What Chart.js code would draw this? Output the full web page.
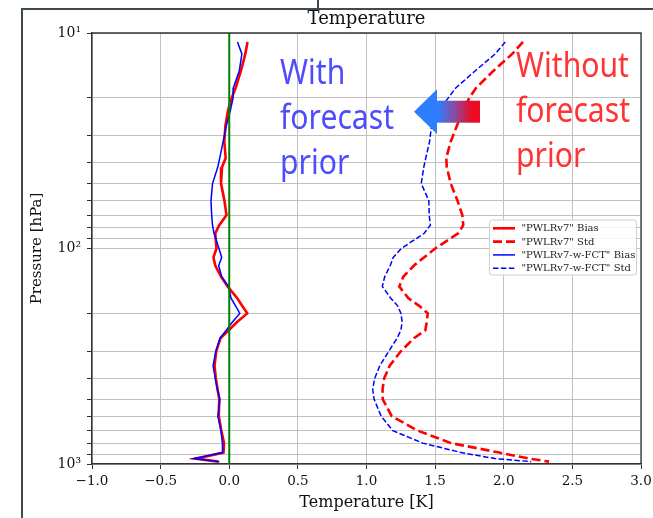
<!DOCTYPE html>
<html><head><meta charset="utf-8">
<script src="https://cdn.jsdelivr.net/npm/chart.js@4/dist/chart.umd.min.js"></script>
<style>html,body{margin:0;padding:0;background:#fff}</style>
</head><body>
<canvas id="c" width="653" height="518"></canvas>
<script>
// ---- data ----
const pressureLevels = [11, 12.5, 15, 18, 20, 23, 27, 32, 38, 42, 50, 60, 70, 78, 85, 100, 110, 120, 135, 150, 170, 185, 200, 220, 240, 260, 300, 350, 400, 450, 500, 600, 700, 800, 885, 944, 975];
const biasPWLRv7 = [0.133, 0.117, 0.085, 0.046, 0.018, -0.010, -0.028, -0.036, -0.026, -0.053, -0.060, -0.035, -0.020, -0.073, -0.102, -0.093, -0.115, -0.102, -0.060, -0.012, 0.058, 0.095, 0.131, 0.055, -0.004, -0.063, -0.095, -0.107, -0.098, -0.085, -0.073, -0.076, -0.058, -0.038, -0.042, -0.245, -0.078];
const stdPWLRv7 = [2.14, 2.062, 1.924, 1.798, 1.749, 1.702, 1.658, 1.613, 1.581, 1.585, 1.614, 1.663, 1.698, 1.705, 1.668, 1.501, 1.419, 1.346, 1.269, 1.239, 1.304, 1.386, 1.446, 1.439, 1.428, 1.348, 1.250, 1.169, 1.129, 1.117, 1.118, 1.184, 1.372, 1.617, 1.967, 2.186, 2.33];
const biasPWLRv7wFCT = [0.060, 0.092, 0.073, 0.029, 0.028, 0.007, -0.022, -0.045, -0.069, -0.084, -0.122, -0.133, -0.128, -0.122, -0.111, -0.075, -0.055, -0.077, -0.055, -0.005, 0.013, 0.047, 0.077, 0.022, -0.023, -0.066, -0.098, -0.118, -0.102, -0.087, -0.068, -0.083, -0.060, -0.050, -0.049, -0.255, -0.073];
const stdPWLRv7wFCT = [2.011, 1.938, 1.791, 1.650, 1.596, 1.527, 1.474, 1.459, 1.432, 1.417, 1.399, 1.454, 1.457, 1.465, 1.421, 1.253, 1.195, 1.173, 1.133, 1.115, 1.177, 1.228, 1.251, 1.260, 1.250, 1.224, 1.162, 1.097, 1.060, 1.045, 1.055, 1.107, 1.191, 1.41, 1.69, 1.938, 2.2];
const seriesLabels = ['"PWLRv7" Bias', '"PWLRv7" Std', '"PWLRv7-w-FCT" Bias', '"PWLRv7-w-FCT" Std'];
const zeroLineX = [0, 0];
const zeroLineP = [10, 1000];
const xTickValues = [-1, -0.5, 0, 0.5, 1, 1.5, 2, 2.5, 3];
const yTickValues = [10, 20, 30, 40, 50, 60, 70, 80, 90, 100, 200, 300, 400, 500, 600, 700, 800, 900, 1000];
const chartTitle = 'Temperature';
const xTitle = 'Temperature [K]';
const yTitle = 'Pressure [hPa]';
const noteWith = ['With', 'forecast', 'prior'];
const noteWithout = ['Without', 'forecast', 'prior'];

const toPts = (vals, ps) => vals.map((v, i) => ({x: v, y: ps[i]}));
const SERIF = '"DejaVu Serif", serif';
const sup = {1: '\u00b9', 2: '\u00b2', 3: '\u00b3'};

const overlay = {
  id: 'overlay',
  beforeDraw(chart) {
    const ctx = chart.ctx;
    ctx.save();
    ctx.fillStyle = '#fff';
    ctx.fillRect(0, 0, chart.width, chart.height);
    ctx.strokeStyle = '#3d4a50';
    ctx.lineWidth = 2;
    ctx.beginPath();
    ctx.moveTo(22, 518); ctx.lineTo(22, 9); ctx.lineTo(653, 9);
    ctx.moveTo(318, 0); ctx.lineTo(318, 9);
    ctx.stroke();
    ctx.restore();
  },
  afterDraw(chart) {
    const ctx = chart.ctx, a = chart.chartArea;
    ctx.save();
    // spines top/right
    ctx.strokeStyle = '#333';
    ctx.lineWidth = 1.3;
    ctx.beginPath();
    ctx.moveTo(a.left, a.top); ctx.lineTo(a.right, a.top); ctx.lineTo(a.right, a.bottom);
    ctx.stroke();
    // title
    ctx.fillStyle = '#111';
    ctx.font = '18px ' + SERIF;
    ctx.textAlign = 'center';
    ctx.textBaseline = 'alphabetic';
    ctx.fillText(chartTitle, (a.left + a.right) / 2, 24);

    // annotations
    ctx.textAlign = 'left';
    ctx.font = '34px "Noto Sans", sans-serif';
    const sx = 114 / ctx.measureText('forecast').width;
    const drawNote = (lines, x, baselines, color) => {
      ctx.fillStyle = color;
      lines.forEach((t, i) => {
        ctx.save();
        ctx.translate(x, baselines[i]);
        ctx.scale(sx, 1);
        ctx.fillText(t, 0, 0);
        ctx.restore();
      });
    };
    drawNote(noteWith, 280, [84, 129, 174], '#4d4dff');
    drawNote(noteWithout, 516, [77, 122, 167], '#ff3333');

    // arrow
    const g = ctx.createLinearGradient(438, 0, 472, 0);
    g.addColorStop(0, '#2e7dff');
    g.addColorStop(0.5, '#8a4a9e');
    g.addColorStop(1, '#ee0a24');
    ctx.fillStyle = g;
    ctx.fillRect(436, 100.7, 44, 22);
    ctx.fillStyle = '#2e7dff';
    ctx.beginPath();
    ctx.moveTo(414, 111.7); ctx.lineTo(437, 89.3); ctx.lineTo(437, 134); ctx.closePath();
    ctx.fill();

    // legend
    const lx = 489.5, ly = 220, lw = 147, lh = 55;
    ctx.fillStyle = 'rgba(255,255,255,0.85)';
    ctx.strokeStyle = '#d0d0d0';
    ctx.lineWidth = 1;
    ctx.beginPath();
    if (ctx.roundRect) ctx.roundRect(lx, ly, lw, lh, 3); else ctx.rect(lx, ly, lw, lh);
    ctx.fill(); ctx.stroke();
    const items = chart.data.datasets.filter(d => d.label).sort((p, q) => p.legendIndex - q.legendIndex);
    ctx.font = '10px ' + SERIF;
    ctx.textBaseline = 'middle';
    items.forEach((d, i) => {
      const y = 228.3 + i * 13.3;
      ctx.strokeStyle = d.borderColor;
      ctx.lineWidth = d.borderWidth;
      ctx.setLineDash(d.borderDash || []);
      ctx.beginPath(); ctx.moveTo(493, y); ctx.lineTo(515, y); ctx.stroke();
      ctx.setLineDash([]);
      ctx.fillStyle = '#222';
      ctx.fillText(d.label, 521.5, y + 0.5);
    });
    ctx.restore();
  }
};

const common = {showLine: true, pointRadius: 0, pointHoverRadius: 0, tension: 0, fill: false};

new Chart(document.getElementById('c'), {
  type: 'scatter',
  data: {
    datasets: [
      {...common, label: '', data: toPts(zeroLineX, zeroLineP), borderColor: '#008000', borderWidth: 2, order: 0},
      {...common, label: seriesLabels[3], legendIndex: 3, data: toPts(stdPWLRv7wFCT, pressureLevels), borderColor: '#0000ff', borderWidth: 1.5, borderDash: [5.5, 2.4], order: 1},
      {...common, label: seriesLabels[2], legendIndex: 2, data: toPts(biasPWLRv7wFCT, pressureLevels), borderColor: '#0000ff', borderWidth: 1.5, order: 2},
      {...common, label: seriesLabels[1], legendIndex: 1, data: toPts(stdPWLRv7, pressureLevels), borderColor: '#ff0000', borderWidth: 2.6, borderDash: [9, 4], order: 3},
      {...common, label: seriesLabels[0], legendIndex: 0, data: toPts(biasPWLRv7, pressureLevels), borderColor: '#ff0000', borderWidth: 2.6, order: 4}
    ]
  },
  options: {
    responsive: false,
    animation: false,
    devicePixelRatio: 1,
    layout: {padding: {left: 0, right: 12, top: 33, bottom: 0}},
    plugins: {legend: {display: false}, title: {display: false}, tooltip: {enabled: false}},
    scales: {
      x: {
        type: 'linear', min: -1, max: 3,
        afterBuildTicks: s => { s.ticks = xTickValues.map(v => ({value: v})); },
        afterFit: s => { s.height = 54; s.paddingLeft = 0; s.paddingRight = 0; },
        ticks: {
          autoSkip: false, maxRotation: 0, padding: 4, color: '#111',
          font: {family: SERIF, size: 13.5},
          callback: v => (v < 0 ? '\u2212' : '') + Math.abs(v).toFixed(1)
        },
        grid: {color: '#c2c2c2', lineWidth: 1, tickLength: 5, tickColor: '#333'},
        border: {color: '#333', width: 1.5},
        title: {display: true, text: xTitle, color: '#111', font: {family: SERIF, size: 16}, padding: {top: 0, bottom: 6}}
      },
      y: {
        type: 'logarithmic', reverse: true, min: 10, max: 1000,
        afterBuildTicks: s => { s.ticks = yTickValues.map(v => ({value: v})); },
        afterFit: s => { s.width = 92; s.paddingTop = 0; s.paddingBottom = 0; },
        ticks: {
          autoSkip: false, padding: 6, color: '#111',
          font: {family: SERIF, size: 14},
          callback: v => {
            const e = Math.log10(v);
            return Math.abs(e - Math.round(e)) < 1e-9 ? '10' + sup[Math.round(e)] : '';
          }
        },
        grid: {color: '#c2c2c2', lineWidth: 1, tickLength: 5, tickColor: '#333'},
        border: {color: '#333', width: 1.5},
        title: {display: true, text: yTitle, color: '#111', font: {family: SERIF, size: 15}, padding: {top: 28, bottom: 0}}
      }
    }
  },
  plugins: [overlay]
});
</script>
</body></html>
